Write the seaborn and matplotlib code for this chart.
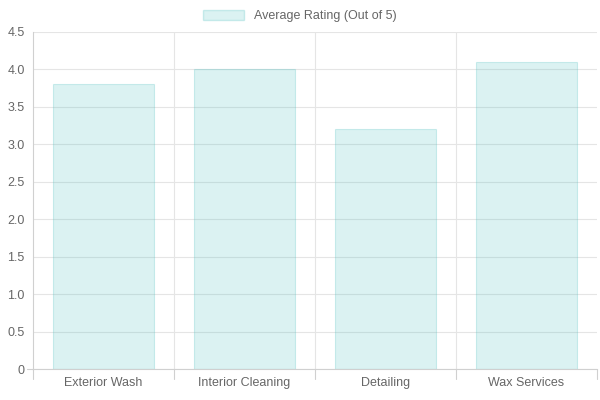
import matplotlib
matplotlib.use("Agg")
import matplotlib.pyplot as plt
import seaborn as sns
import pandas as pd
from matplotlib.patches import Patch

categories = ["Exterior Wash", "Interior Cleaning", "Detailing", "Wax Services"]
ratings = [3.8, 4.0, 3.2, 4.1]
series_label = "Average Rating (Out of 5)"
yticks = [0, 0.5, 1.0, 1.5, 2.0, 2.5, 3.0, 3.5, 4.0, 4.5]
ytick_labels = ["0", "0.5", "1.0", "1.5", "2.0", "2.5", "3.0", "3.5", "4.0", "4.5"]

sns.set_style("white")
plt.rcParams['font.family'] = ['Liberation Sans', 'DejaVu Sans']

df = pd.DataFrame({"cat": categories, "val": ratings})
fig = plt.figure(figsize=(6, 4), dpi=100)
ax = fig.add_axes([0.055, 0.0775, 0.94, 0.8425])
fill = (75/255, 192/255, 192/255, 0.2)
sns.barplot(data=df, x="cat", y="val", ax=ax, color=fill, width=0.72,
            saturation=1, edgecolor=(75/255, 192/255, 192/255, 0.25), linewidth=0.8, zorder=2)
for p in ax.patches:
    p.set_facecolor(fill)
ax.set_xlim(-0.5, len(categories) - 0.5)
ax.set_ylim(0, 4.5)
ax.set_yticks(yticks)
ax.set_yticklabels(ytick_labels)
ax.set_xlabel("")
ax.set_ylabel("")
for y in yticks:
    ax.axhline(y, color="#e5e5e5", lw=0.8, zorder=0)
for x in [i + 0.5 for i in range(len(categories) - 1)]:
    ax.axvline(x, color="#e5e5e5", lw=0.8, zorder=0)
for s in ["top", "right"]:
    ax.spines[s].set_visible(False)
ax.spines["left"].set_color("#d0d0d0")
ax.spines["bottom"].set_color("#d0d0d0")
ax.tick_params(axis="both", colors="#666666", labelsize=9, length=0, pad=6)
# boundary ticks below axis
for x in [i - 0.5 for i in range(len(categories) + 1)]:
    ax.plot([x, x], [0, -0.13], color="#d0d0d0", lw=0.8, clip_on=False)
ax.plot([-0.5, -0.5 - 0.04], [0, 0], color="#d0d0d0", lw=0.8, clip_on=False)
leg = fig.legend(handles=[Patch(facecolor=fill, edgecolor=(75/255,192/255,192/255,0.25), label=series_label)],
                 loc="center", bbox_to_anchor=(0.5, 0.96), frameon=False, fontsize=9,
                 handlelength=3.3, handleheight=0.9)
for t in leg.get_texts():
    t.set_color("#666666")
fig.savefig("out.png", dpi=100)
